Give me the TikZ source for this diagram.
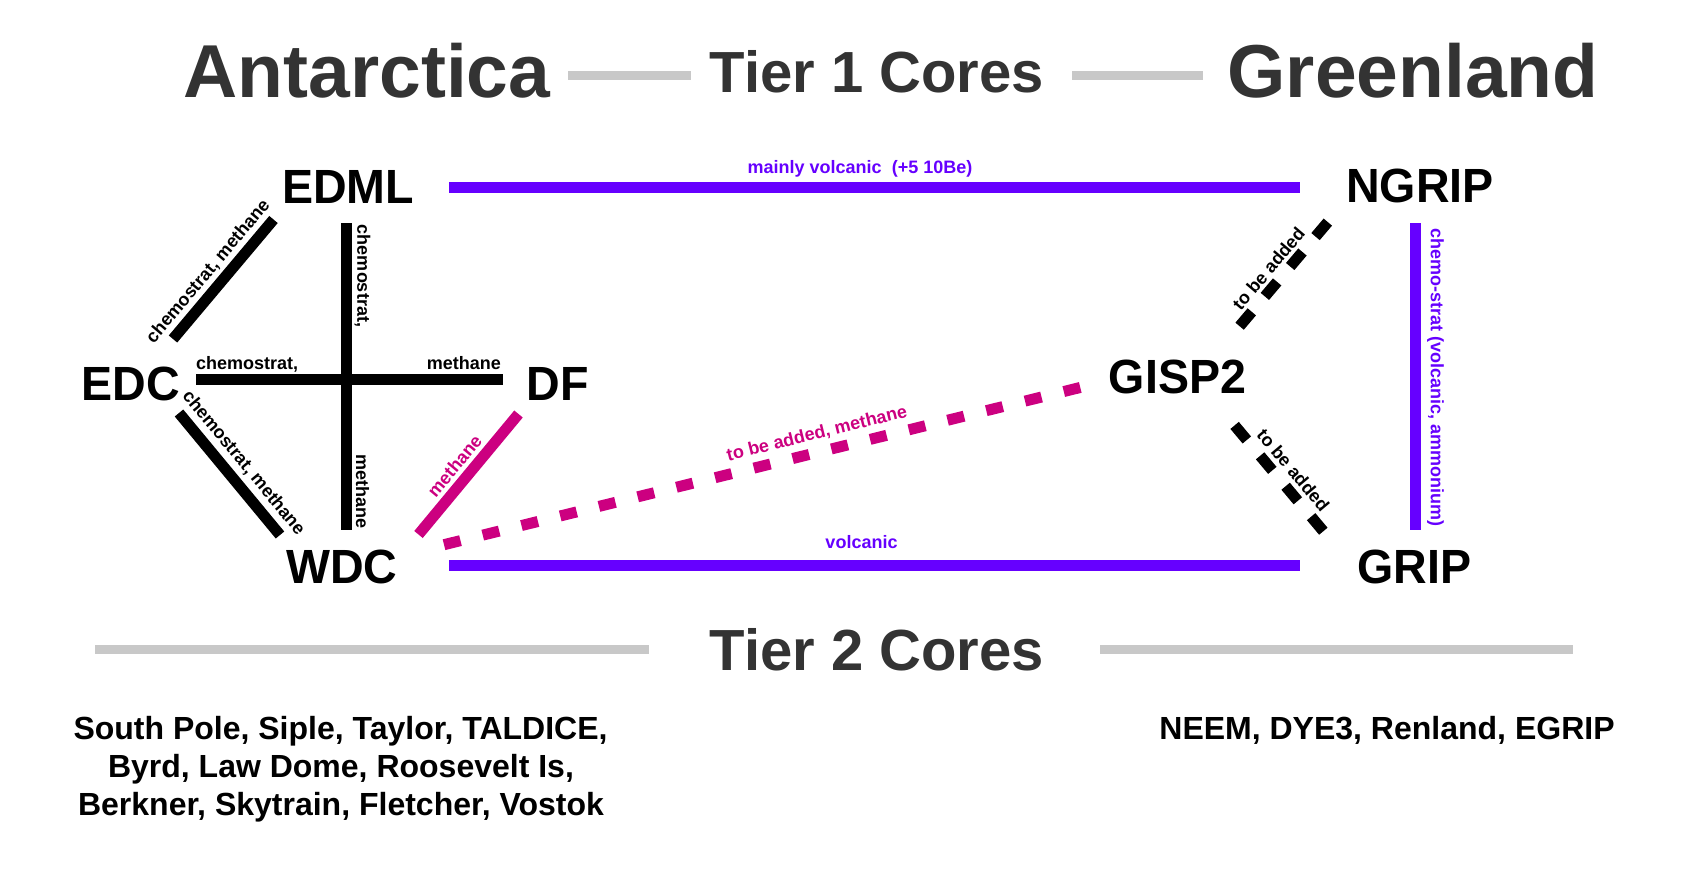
\documentclass[tikz,border=0pt]{standalone}
\usepackage{fontspec}
\setmainfont{Liberation Sans}
\newfontfamily\corefont{Liberation Sans}[FakeStretch=0.97]
\usetikzlibrary{calc}
\definecolor{titlegray}{HTML}{333333}
\definecolor{rulegray}{HTML}{C8C8C8}
\definecolor{vpurple}{HTML}{6600FF}
\definecolor{vmagenta}{HTML}{CC0080}
\tikzset{
  titletext/.style={font=\fontsize{75}{80}\selectfont\bfseries, text=titlegray, inner sep=0pt, anchor=base},
  tiertext/.style={font=\fontsize{58}{62}\selectfont\bfseries, text=titlegray, inner sep=0pt, anchor=base},
  core/.style={font=\corefont\fontsize{48}{52}\selectfont\bfseries, inner sep=0pt, anchor=base},
  lbl/.style={font=\fontsize{18}{20}\selectfont\bfseries, inner sep=0pt},
  listtext/.style={font=\fontsize{32}{36}\selectfont\bfseries, inner sep=0pt, anchor=base},
  grayrule/.style={draw=rulegray, line width=9pt},
  link/.style={line width=11pt},
  blacklink/.style={link, draw=black},
  purplelink/.style={link, draw=vpurple},
  magentalink/.style={link, draw=vmagenta},
}
\begin{document}
\begin{tikzpicture}[x=1pt,y=-1pt]
\fill[white] (0,0) rectangle (1707,869);
\useasboundingbox (0,0) rectangle (1707,869);

% titles
\node[titletext] (antarctica) at (367,98) {Antarctica};
\node[tiertext] (tier1) at (877,93) {Tier 1 Cores};
\node[titletext] (greenland) at (1413,98) {Greenland};
\coordinate (r1a) at (568,75.5);
\coordinate (r1b) at (691,75.5);
\coordinate (r2a) at (1072,75.5);
\coordinate (r2b) at (1203,75.5);
\draw[grayrule] (r1a) -- (r1b);
\draw[grayrule] (r2a) -- (r2b);

% core nodes
\node[core] (EDML) at (348,204) {EDML};
\node[core] (EDC) at (130.7,400) {EDC};
\node[core] (DF) at (558,400) {DF};
\node[core] (WDC) at (342,583) {WDC};
\node[core] (NGRIP) at (1420,203) {NGRIP};
\node[core] (GISP2) at (1177.5,393) {GISP2};
\node[core] (GRIP) at (1414.5,583) {GRIP};

% connector end points
\coordinate (EDML-edc) at (273.5,219.5);
\coordinate (EDC-edml) at (173,339);
\coordinate (EDC-wdc) at (179,413);
\coordinate (WDC-edc) at (280,535);
\coordinate (DF-wdc) at (518.5,414);
\coordinate (WDC-df) at (418.5,534.5);
\coordinate (EDML-wdc) at (346.5,223);
\coordinate (WDC-edml) at (346.5,530);
\coordinate (EDC-df) at (196,379);
\coordinate (DF-edc) at (503,379);
\coordinate (EDML-ngrip) at (449,187.5);
\coordinate (NGRIP-edml) at (1300,187.5);
\coordinate (WDC-grip) at (449,565);
\coordinate (GRIP-wdc) at (1300,565);
\coordinate (NGRIP-grip) at (1415,223);
\coordinate (GRIP-ngrip) at (1415,530);
\coordinate (WDC-gisp) at (444,544.7);
\coordinate (GISP2-wdc) at (1080.5,387.4);
\coordinate (NGRIP-gisp) at (1327.8,222.1);
\coordinate (GISP2-ngrip) at (1239.6,326.2);
\coordinate (GISP2-grip) at (1234.6,425.4);
\coordinate (GRIP-gisp) at (1323.4,531.3);

% Antarctic connectors
\draw[blacklink] (EDC-edml) -- (EDML-edc);
\node[lbl, rotate=49.9] (l-edml-edc) at (208.3,271.5) {chemostrat, methane};
\draw[blacklink] (EDC-wdc) -- (WDC-edc);
\node[lbl, rotate=-50.4] (l-edc-wdc) at (243.5,463) {chemostrat, methane};
\draw[blacklink] (EDML-wdc) -- (WDC-edml);
\node[lbl, rotate=-90] (l-vert-a) at (362.5,276) {chemostrat,};
\node[lbl, rotate=-90] (l-vert-b) at (362.5,491.5) {methane};
\draw[blacklink] (EDC-df) -- (DF-edc);
\node[lbl, anchor=base west] (l-hor-a) at (196,369) {chemostrat,};
\node[lbl, anchor=base east] (l-hor-b) at (501,369) {methane};
\draw[magentalink] (WDC-df) -- (DF-wdc);
\node[lbl, text=vmagenta, rotate=50.3] (l-df-wdc) at (454.5,466) {methane};

% inter-hemisphere connectors
\draw[purplelink] (EDML-ngrip) -- (NGRIP-edml);
\node[lbl, text=vpurple, anchor=base] (l-edml-ngrip) at (860,174) {mainly volcanic\ \ (+5 10Be)};
\draw[purplelink] (WDC-grip) -- (GRIP-wdc);
\node[lbl, text=vpurple, anchor=base] (l-wdc-grip) at (861.5,548) {volcanic};
\draw[magentalink, dash pattern=on 17pt off 22.9pt] (WDC-gisp) -- (GISP2-wdc);
\node[lbl, text=vmagenta, rotate=13.9] (l-wdc-gisp) at (817,434) {to be added, methane};

% Greenland connectors
\draw[purplelink] (NGRIP-grip) -- (GRIP-ngrip);
\node[lbl, text=vpurple, rotate=-90] (l-ngrip-grip) at (1435.5,377.5) {chemo-strat (volcanic, ammonium)};
\draw[blacklink, dash pattern=on 19pt off 20.2pt] (NGRIP-gisp) -- (GISP2-ngrip);
\node[lbl, rotate=49.7] (l-ngrip-gisp) at (1268.5,268.5) {to be added};
\draw[blacklink, dash pattern=on 19pt off 20.7pt] (GISP2-grip) -- (GRIP-gisp);
\node[lbl, rotate=-50.0] (l-gisp-grip) at (1293.3,470) {to be added};

% tier 2
\node[tiertext] (tier2) at (877,670) {Tier 2 Cores};
\coordinate (r3a) at (95,649.5);
\coordinate (r3b) at (649,649.5);
\coordinate (r4a) at (1100,649.5);
\coordinate (r4b) at (1573,649.5);
\draw[grayrule] (r3a) -- (r3b);
\draw[grayrule] (r4a) -- (r4b);
\node[listtext] (ant2a) at (340.5,739) {South Pole, Siple, Taylor, TALDICE,};
\node[listtext] (ant2b) at (341,777) {Byrd, Law Dome, Roosevelt Is,};
\node[listtext] (ant2c) at (341,815) {Berkner, Skytrain, Fletcher, Vostok};
\node[listtext] (grn2) at (1387,739) {NEEM, DYE3, Renland, EGRIP};
\end{tikzpicture}
\end{document}
